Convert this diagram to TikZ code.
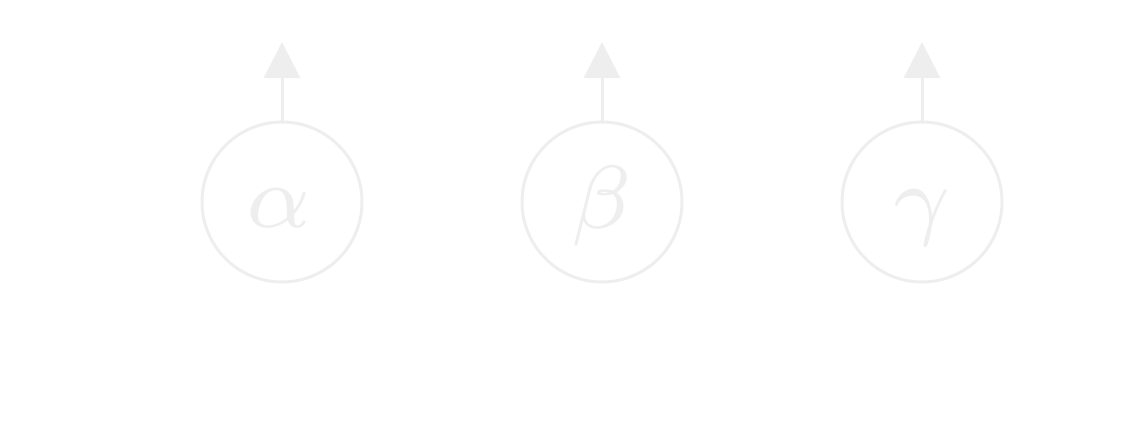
\documentclass[tikz,border=0pt]{standalone}
\usetikzlibrary{arrows.meta}
\definecolor{pale}{HTML}{EEEEEE}
\begin{document}
\begin{tikzpicture}[x=1pt,y=-1pt,
  unit/.style={circle,draw=pale,line width=3pt,minimum size=160pt,inner sep=0pt,outer sep=0pt},
  letter/.style={text=pale,scale=12.8,inner sep=0pt,anchor=base},
  outarrow/.style={draw=pale,line width=3pt,-{Triangle[width=36pt,length=36pt]}}]
\useasboundingbox (0,0) rectangle (1124,444);
\node[unit] (a) at (282,202) {};
\node[unit] (b) at (602,202) {};
\node[unit] (c) at (922,202) {};
\node[letter] (la) at (279,227) {$\scriptstyle\alpha$};
\node[letter] (lb) at (602,228) {$\scriptstyle\beta$};
\node[letter] (lc) at (922,228) {$\scriptstyle\gamma$};
\coordinate (ta) at (282,42);
\coordinate (tb) at (602,42);
\coordinate (tc) at (922,42);
\draw[outarrow] (a.north) -- (ta);
\draw[outarrow] (b.north) -- (tb);
\draw[outarrow] (c.north) -- (tc);
\end{tikzpicture}
\end{document}
